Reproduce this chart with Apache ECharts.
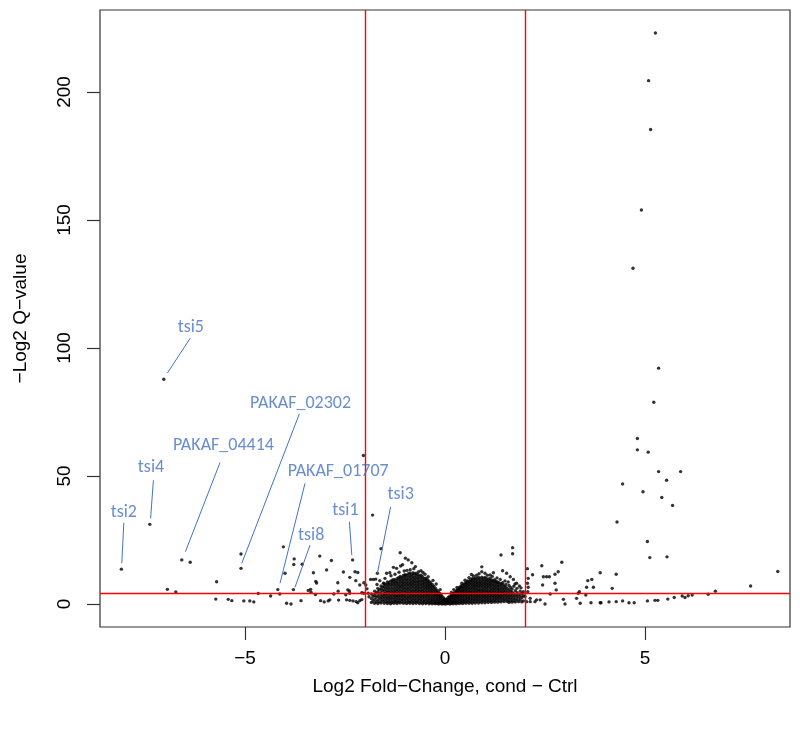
<!DOCTYPE html>
<html>
<head>
<meta charset="utf-8">
<script src="https://cdn.jsdelivr.net/npm/echarts@6/dist/echarts.min.js"></script>
<style>
html,body{margin:0;padding:0;background:#fff;}
#chart{width:800px;height:732px;}
</style>
</head>
<body>
<div id="chart"></div>
<script>
// ---------- data ----------
const xTicks = [-5, 0, 5];
const yTicks = [0, 50, 100, 150, 200];
const foldThresholds = [-2, 2];
const qThreshold = 4.32;

// dense central cloud, columns: [log2FC, [-log2 q values]]
const cloudLeft = [
 [-1.84,[0.6,2.1,3.9]],
 [-1.80,[1.2,3.0]],
 [-1.76,[0.3,1.8,3.4,5.0]],
 [-1.72,[0.9,2.6,4.3]],
 [-1.68,[0.2,1.5,3.1,4.8,6.1]],
 [-1.64,[0.8,2.3,3.9,5.5]],
 [-1.60,[0.4,1.7,3.0,4.4,5.9,7.0]],
 [-1.56,[1.1,2.4,3.7,5.2,6.5]],
 [-1.52,[0.3,1.6,2.9,4.1,5.5,6.8,8.0]],
 [-1.48,[0.9,2.2,3.5,4.8,6.1,7.4]],
 [-1.44,[0.2,1.4,2.6,3.9,5.2,6.4,7.7,8.6]],
 [-1.40,[0.7,2.0,3.2,4.5,5.8,7.1,8.3]],
 [-1.36,[0.1,1.3,2.5,3.8,5.0,6.3,7.6,8.9]],
 [-1.32,[0.6,1.9,3.1,4.4,5.7,7.0,8.2,9.3]],
 [-1.28,[0.3,1.2,2.4,3.7,4.9,6.2,7.5,8.7,9.6]],
 [-1.24,[0.8,1.8,3.0,4.3,5.5,6.8,8.1,9.2]],
 [-1.20,[0.2,1.3,2.5,3.6,4.9,6.1,7.4,8.6,9.9]],
 [-1.16,[0.7,1.9,3.1,4.2,5.5,6.7,8.0,9.3,10.3]],
 [-1.12,[0.4,1.4,2.6,3.8,4.9,6.2,7.3,8.6,9.8,10.7]],
 [-1.08,[0.9,2.0,3.2,4.4,5.6,6.8,8.0,9.2,10.4]],
 [-1.04,[0.3,1.5,2.7,3.8,5.1,6.3,7.5,8.7,9.9,11.1]],
 [-1.00,[0.8,2.1,3.3,4.5,5.7,6.9,8.1,9.4,10.6,11.4]],
 [-0.96,[0.2,1.4,2.6,3.9,5.0,6.2,7.5,8.7,9.9,11.2]],
 [-0.92,[0.7,1.9,3.1,4.3,5.6,6.8,8.0,9.3,10.5,11.7]],
 [-0.88,[0.3,1.3,2.5,3.7,4.9,6.1,7.4,8.6,9.8,11.0,12.1]],
 [-0.84,[0.8,2.0,3.2,4.4,5.6,6.8,8.0,9.2,10.4,11.6]],
 [-0.80,[0.2,1.4,2.6,3.8,5.0,6.3,7.5,8.7,9.9,11.1,12.2]],
 [-0.76,[0.7,1.9,3.1,4.3,5.5,6.7,8.0,9.2,10.4,11.7]],
 [-0.72,[0.3,1.3,2.5,3.7,4.9,6.1,7.3,8.6,9.8,11.0,12.0]],
 [-0.68,[0.8,2.0,3.2,4.4,5.6,6.8,8.0,9.1,10.3,11.5]],
 [-0.64,[0.2,1.4,2.6,3.8,5.0,6.2,7.4,8.6,9.7,10.9]],
 [-0.60,[0.6,1.8,3.0,4.2,5.4,6.6,7.8,9.0,10.2,11.2]],
 [-0.56,[0.1,1.2,2.4,3.6,4.8,6.0,7.2,8.4,9.5,10.6]],
 [-0.52,[0.6,1.7,2.9,4.1,5.3,6.5,7.7,8.8,9.9]],
 [-0.48,[0.2,1.2,2.3,3.5,4.7,5.9,7.0,8.2,9.4,10.1]],
 [-0.44,[0.6,1.7,2.9,4.0,5.2,6.4,7.5,8.6,9.5]],
 [-0.40,[0.1,1.1,2.2,3.4,4.5,5.7,6.8,7.9,8.9]],
 [-0.36,[0.5,1.6,2.7,3.9,5.0,6.1,7.2,8.3]],
 [-0.32,[0.1,1.0,2.1,3.2,4.3,5.4,6.5,7.6]],
 [-0.28,[0.4,1.4,2.5,3.6,4.7,5.8,6.9]],
 [-0.24,[0.1,0.9,1.9,3.0,4.0,5.1,6.2]],
 [-0.20,[0.3,1.3,2.3,3.4,4.4,5.4]],
 [-0.16,[0.0,0.8,1.8,2.8,3.8,4.7]],
 [-0.12,[0.3,1.2,2.2,3.1,4.0]],
 [-0.08,[0.0,0.7,1.6,2.5,3.2]],
 [-0.04,[0.2,1.0,1.8,2.4]],
 [0.00,[0.0,0.6,1.3,1.8]]
];
const cloudRight = [
 [0.04,[0.1,0.7,1.4,2.0]],
 [0.08,[0.3,1.0,1.8,2.5]],
 [0.12,[0.0,0.7,1.5,2.3,3.0]],
 [0.16,[0.3,1.1,2.0,2.8,3.5]],
 [0.20,[0.1,0.8,1.7,2.6,3.4,4.0]],
 [0.24,[0.4,1.3,2.2,3.1,3.9,4.5]],
 [0.28,[0.1,0.9,1.9,2.8,3.7,4.6,5.1]],
 [0.32,[0.5,1.4,2.4,3.3,4.3,5.2,5.7]],
 [0.36,[0.2,1.0,2.0,3.0,4.0,5.0,5.9,6.4]],
 [0.40,[0.6,1.5,2.5,3.5,4.5,5.5,6.5,7.0]],
 [0.44,[0.2,1.1,2.1,3.1,4.2,5.2,6.2,7.2]],
 [0.48,[0.7,1.6,2.7,3.7,4.8,5.8,6.8,7.8]],
 [0.52,[0.3,1.2,2.2,3.3,4.4,5.5,6.5,7.6,8.4]],
 [0.56,[0.8,1.8,2.8,3.9,5.0,6.1,7.2,8.2,9.0]],
 [0.60,[0.3,1.3,2.4,3.5,4.6,5.7,6.8,7.9,8.9]],
 [0.64,[0.8,1.9,3.0,4.1,5.2,6.3,7.4,8.5,9.5]],
 [0.68,[0.3,1.4,2.5,3.6,4.7,5.8,6.9,8.0,9.1,9.9]],
 [0.72,[0.9,2.0,3.1,4.2,5.3,6.4,7.5,8.6,9.7]],
 [0.76,[0.4,1.5,2.6,3.7,4.8,5.9,7.0,8.1,9.2,10.2]],
 [0.80,[1.0,2.1,3.2,4.3,5.4,6.5,7.6,8.7,9.8]],
 [0.84,[0.4,1.5,2.6,3.7,4.9,6.0,7.1,8.2,9.3,10.4]],
 [0.88,[1.0,2.1,3.2,4.3,5.4,6.6,7.7,8.8,9.9]],
 [0.92,[0.5,1.6,2.7,3.8,4.9,6.0,7.2,8.3,9.4,10.5]],
 [0.96,[1.1,2.2,3.3,4.4,5.5,6.6,7.8,8.9,10.0]],
 [1.00,[0.5,1.6,2.7,3.8,5.0,6.1,7.2,8.3,9.4,10.4]],
 [1.04,[1.1,2.2,3.3,4.5,5.6,6.7,7.8,8.9,9.9]],
 [1.08,[0.6,1.7,2.8,3.9,5.0,6.2,7.3,8.4,9.6]],
 [1.12,[1.2,2.3,3.4,4.5,5.6,6.8,7.9,9.0,10.0]],
 [1.16,[0.6,1.7,2.9,4.0,5.1,6.2,7.4,8.5,9.4]],
 [1.20,[1.2,2.3,3.4,4.6,5.7,6.8,8.0,9.1]],
 [1.24,[0.7,1.8,2.9,4.0,5.2,6.3,7.4,8.6,9.5]],
 [1.28,[1.3,2.4,3.5,4.6,5.8,6.9,8.1,8.9]],
 [1.32,[0.7,1.9,3.0,4.1,5.3,6.4,7.6,8.5]],
 [1.36,[1.3,2.5,3.6,4.8,5.9,7.1,8.2]],
 [1.40,[0.8,2.0,3.1,4.3,5.4,6.6,7.8]],
 [1.44,[1.4,2.6,3.8,4.9,6.1,7.4,8.3]],
 [1.48,[0.9,2.1,3.3,4.5,5.7,6.9]],
 [1.52,[1.5,2.7,3.9,5.2,6.5,7.6]],
 [1.56,[1.0,2.2,3.4,4.7,6.0]],
 [1.60,[0.6,1.7,2.9,4.2,5.5,7.2]],
 [1.64,[1.2,2.4,3.7,5.0,6.4]],
 [1.68,[0.7,1.9,3.2,4.6,5.8]],
 [1.72,[1.3,2.6,4.0,6.9]],
 [1.76,[0.8,2.0,3.4,5.2]],
 [1.80,[1.5,2.9,4.4,6.1]],
 [1.84,[0.9,2.3,3.8]],
 [1.88,[1.6,3.1,5.0]],
 [1.92,[0.8,2.4,4.1]],
 [1.96,[1.2,3.2]]
];
// genes around the rim of the central cloud
const cloudRim = [
 [-1.50,10.0],[-1.35,11.0],[-1.25,11.6],[-1.15,12.4],[-0.95,13.1],[-0.78,13.8],[-0.74,14.6],
 [-0.60,13.0],[-0.50,11.6],[-0.42,10.6],[-0.30,9.2],[-0.22,7.8],[-0.12,5.6],[-0.55,12.3],
 [-1.02,12.9],[-0.87,13.4],[-1.70,7.6],[-1.90,2.8],[-1.95,5.9],
 [0.30,6.4],[0.42,8.1],[0.50,9.3],[0.60,10.3],[0.66,11.5],[0.85,11.8],[1.00,12.0],[1.06,11.2],
 [1.18,10.7],[1.30,10.2],[1.38,9.6],[1.50,9.0],[1.58,8.6],[1.75,7.8],[1.86,7.0],[1.90,6.3],
 [0.16,4.5],[0.22,5.6]
];
// scattered genes, [log2FC, -log2 q]
const scatterLeft = [
 [-8.09,13.6],[-7.38,31.1],[-7.03,87.8],[-6.94,5.7],[-6.73,4.7],[-6.58,17.2],[-6.37,16.3],
 [-5.71,8.7],[-5.73,1.9],[-5.42,1.8],[-5.33,1.3],[-5.03,1.2],[-4.88,1.2],[-4.78,0.8],
 [-5.10,19.5],[-5.10,13.9],[-4.67,4.1],[-4.36,3.1],[-4.04,22.3],[-4.00,12.0],[-4.18,5.6],[-4.13,3.9],
 [-3.96,0.3],[-3.85,0.0],[-3.77,17.6],[-3.78,15.4],[-3.57,15.5],[-3.79,5.6],[-3.60,1.3],
 [-3.42,5.3],[-3.36,5.7],[-3.35,4.6],[-3.29,12.2],[-3.23,8.8],[-3.21,8.2],[-3.24,3.7],[-3.13,18.7],
 [-3.11,1.3],[-3.02,0.8],[-2.96,13.3],[-2.92,1.2],[-2.84,17.0],[-2.78,3.9],[-2.68,8.3],[-2.67,5.0],
 [-2.66,1.5],[-2.88,1.6],[-2.54,12.5],[-2.48,3.6],[-2.43,5.5],[-2.39,5.1],[-2.46,1.6],[-2.38,10.4],
 [-2.31,17.2],[-2.25,12.6],[-2.18,12.3],[-2.23,9.1],[-2.13,7.4],[-2.03,8.3],[-1.98,7.4],
 [-2.38,4.2],[-2.08,4.4],[-2.03,4.2],[-1.92,4.2],[-2.38,1.4],[-2.30,1.2],[-2.22,0.9],[-2.13,1.3],[-2.08,1.7],[-2.18,0.5],
 [-2.04,58.0],[-1.81,34.7],[-1.60,21.6],[-1.69,12.0],
 [-1.12,20.0],[-0.99,17.9],[-0.92,17.2],[-0.83,16.1],[-1.06,15.3],[-1.11,14.8],[-1.29,14.3],[-1.21,13.9],
 [-1.46,12.0],[-1.38,12.2],[-0.66,12.6],[-1.86,9.6],[-1.79,9.6],[-1.73,9.7],[-1.63,9.1],[-1.54,8.1]
];
const scatterRight = [
 [0.92,14.5],[1.40,19.1],[1.69,22.0],[1.69,19.6],[0.92,12.6],[1.21,12.2],[1.13,11.3],[1.44,13.0],
 [0.71,10.9],[0.79,11.2],[1.54,12.0],[1.63,10.6],[1.71,9.6],[1.79,8.1],
 [2.06,13.8],[2.08,10.0],[2.06,8.1],[2.08,6.5],[2.07,4.8],[2.19,11.4],[2.42,14.9],[2.54,10.6],
 [1.96,4.8],[2.00,2.9],[2.04,0.9],[2.13,2.2],[2.13,0.9],[2.25,0.9],[2.38,1.6],[2.50,0.0],[2.29,1.6],
 [2.63,3.9],[2.46,10.6],[2.61,10.6],[2.44,7.4],[2.75,11.6],[2.83,12.6],[2.92,16.3],[2.75,8.1],[2.78,5.5],
 [2.96,1.8],[3.00,0.0],[3.29,2.2],[3.33,4.2],[3.36,4.8],[3.38,0.3],[3.52,3.5],[3.54,6.5],[3.57,9.1],
 [3.67,9.6],[3.71,6.5],[3.65,0.5],[3.88,12.2],[3.88,0.5],[3.90,0.5],[4.10,0.8],[4.18,6.1],[4.28,11.6],
 [4.28,0.9],[4.44,1.2],[4.60,0.5],[4.73,0.5],[5.06,1.2],[5.25,1.4],[5.32,1.4],[5.57,1.9],[5.73,2.5],
 [5.93,3.1],[6.00,2.5],[6.08,3.2],[6.18,3.5],[6.58,3.8],[6.76,5.0],[7.64,7.0],[8.32,12.7]
];
const topRight = [
 [5.26,223.0],[5.09,204.4],[5.14,185.3],[4.91,153.9],[4.70,131.1],[5.34,92.1],[5.22,78.8],
 [4.81,64.6],[4.81,60.2],[5.08,59.3],[5.34,51.7],[5.89,51.7],[4.44,46.9],[5.54,48.3],
 [4.95,43.8],[5.42,41.6],[5.69,38.5],[4.30,32.0],[5.06,24.4],[5.12,18.1],[5.55,18.4]
];
// annotations (data coordinates)
const labelNames = ['tsi5','PAKAF_02302','PAKAF_04414','tsi4','tsi2','PAKAF_01707','tsi8','tsi1','tsi3'];
const labelAt = [[-6.355,108.0],[-3.61,78.4],[-5.54,62.0],[-7.35,53.3],[-8.03,35.9],[-2.67,51.6],[-3.345,26.8],[-2.49,36.6],[-1.11,42.6]];
const leaderFrom = [[-6.37,103.8],[-3.64,74.3],[-5.625,55.2],[-7.29,48.3],[-8.03,31.7],[-3.50,47.1],[-3.375,23.0],[-2.39,32.1],[-1.36,37.9]];
const leaderTo = [[-6.94,90.2],[-5.08,15.9],[-6.49,20.4],[-7.36,33.4],[-8.08,15.9],[-4.125,8.1],[-3.75,6.5],[-2.33,19.1],[-1.69,12.0]];

// ---------- build ----------
const points = [];
cloudLeft.concat(cloudRight).forEach(function (c) { c[1].forEach(function (y) { points.push([c[0], y]); }); });
cloudRim.concat(scatterLeft, scatterRight, topRight).forEach(function (p) { points.push(p); });

const axisFont = '"Liberation Sans", Arial, Helvetica, sans-serif';
const annoFont = 'Carlito, Lato, "Open Sans", sans-serif';
const blue = '#4472C4';
const minus = function (v) { return String(v).replace('-', '\u2212'); };

const chart = echarts.init(document.getElementById('chart'), null, {renderer: 'canvas'});
chart.setOption({
  animation: false,
  backgroundColor: '#fff',
  grid: {left: 100, right: 10, top: 10, bottom: 105, show: true, borderColor: '#333', borderWidth: 1.2, backgroundColor: 'transparent'},
  xAxis: {
    type: 'value', min: -8.625, max: 8.625,
    axisLine: {show: false, onZero: false}, splitLine: {show: false},
    axisTick: {show: true, length: 13, customValues: xTicks, lineStyle: {color: '#333', width: 1.2}},
    axisLabel: {customValues: xTicks, margin: 22, fontSize: 19, color: '#000', fontFamily: axisFont, formatter: minus},
    name: 'Log2 Fold\u2212Change, cond \u2212 Ctrl', nameLocation: 'middle', nameGap: 50,
    nameTextStyle: {fontSize: 19, color: '#000', fontFamily: axisFont}
  },
  yAxis: {
    type: 'value', min: -9, max: 232,
    axisLine: {show: false, onZero: false}, splitLine: {show: false},
    axisTick: {show: true, length: 13, customValues: yTicks, lineStyle: {color: '#333', width: 1.2}},
    axisLabel: {customValues: yTicks, rotate: 90, margin: 26, fontSize: 19, color: '#000', fontFamily: axisFont},
    name: '\u2212Log2 Q\u2212value', nameLocation: 'middle', nameRotate: 90, nameGap: 70,
    nameTextStyle: {fontSize: 19, color: '#000', fontFamily: axisFont}
  },
  series: [
    {
      type: 'scatter', name: 'genes', data: points, symbol: 'circle', symbolSize: 3.4,
      itemStyle: {color: '#000'}, silent: true, z: 2
    },
    {
      type: 'scatter', name: 'thresholds', data: [], z: 5, silent: true,
      markLine: {
        silent: true, symbol: ['none', 'none'], animation: false,
        label: {show: false},
        lineStyle: {color: '#FF0000', width: 1.4, type: 'solid'},
        data: foldThresholds.map(function (v) { return {xAxis: v}; }).concat([{yAxis: qThreshold}])
      }
    },
    {
      type: 'scatter', name: 'labels', z: 6, silent: true, symbolSize: 0,
      data: labelAt.map(function (p, i) { return {name: labelNames[i], value: p}; }),
      label: {show: true, position: 'inside', formatter: function (p) { return p.name; },
        color: blue, fontSize: 18, fontFamily: annoFont},
      markLine: {
        silent: true, symbol: ['none', 'none'], animation: false,
        label: {show: false},
        lineStyle: {color: blue, width: 1, type: 'solid'},
        data: leaderFrom.map(function (p, i) { return [{coord: p}, {coord: leaderTo[i]}]; })
      }
    }
  ]
});
</script>
</body>
</html>
